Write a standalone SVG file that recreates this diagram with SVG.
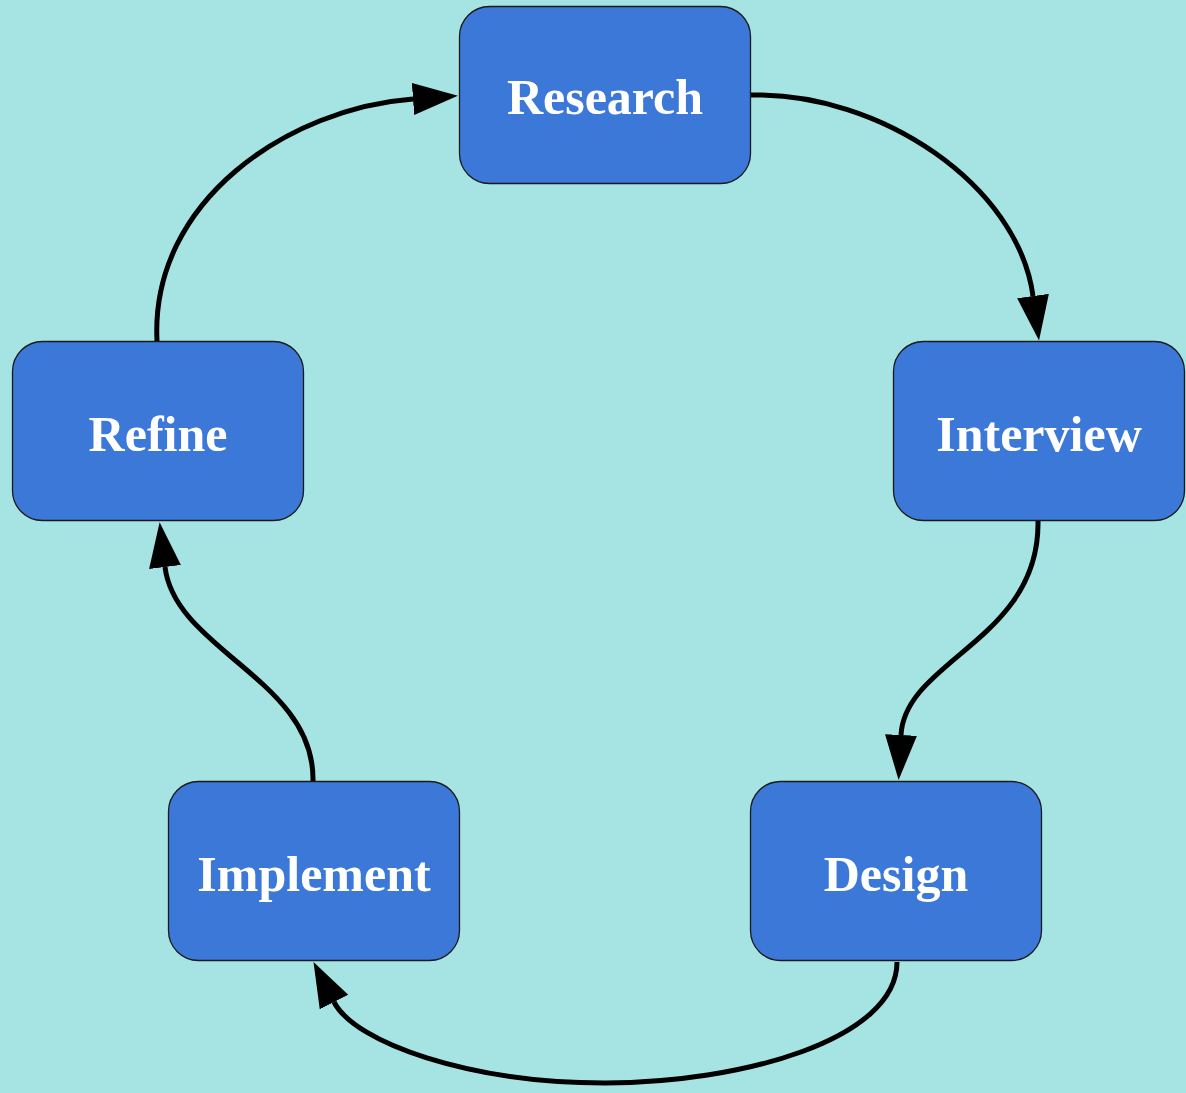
<svg xmlns="http://www.w3.org/2000/svg" width="1186" height="1093" viewBox="0 0 1186 1093">
<style>
.node rect{fill:#3c78d8;stroke:#1a1a1a;stroke-width:1.3}
.node text{font-family:"Liberation Serif","DejaVu Serif",serif;font-weight:bold;font-size:50px;fill:#ffffff;text-anchor:middle}
.edge{fill:none;stroke:#000;stroke-width:5;marker-end:url(#arrow)}
</style>
<defs>
<marker id="arrow" markerUnits="userSpaceOnUse" markerWidth="46" markerHeight="34" refX="0" refY="17" orient="auto" viewBox="0 0 46 34">
<path d="M0,1 L45,17 L0,33 Z" fill="#000"/>
</marker>
</defs>
<rect x="0" y="0" width="1186" height="1093" fill="#a6e4e3"/>
<g id="connectors">
<path class="edge" d="M751,95 C880,92 1018,185 1033,296"/>
<path class="edge" d="M1038,521 C1040,640 905,660 901,735"/>
<path class="edge" d="M897,962 C897,1040 740,1083 605,1083 C470,1083 355,1043 334,1002"/>
<path class="edge" d="M313,781 C315,680 175,650 165,567"/>
<path class="edge" d="M157,341 C150,200 290,108 413,99"/>
</g>
<g id="research" class="node"><rect x="459.5" y="6.5" width="291" height="177" rx="30"/><text x="605" y="114">Research</text></g>
<g id="interview" class="node"><rect x="893.5" y="341.5" width="291" height="179" rx="30"/><text x="1039" y="451">Interview</text></g>
<g id="design" class="node"><rect x="750.5" y="781.5" width="291" height="179" rx="30"/><text x="896" y="891">Design</text></g>
<g id="implement" class="node"><rect x="168.5" y="781.5" width="291" height="179" rx="30"/><text x="314" y="891">Implement</text></g>
<g id="refine" class="node"><rect x="12.5" y="341.5" width="291" height="179" rx="30"/><text x="158" y="451">Refine</text></g>
</svg>
